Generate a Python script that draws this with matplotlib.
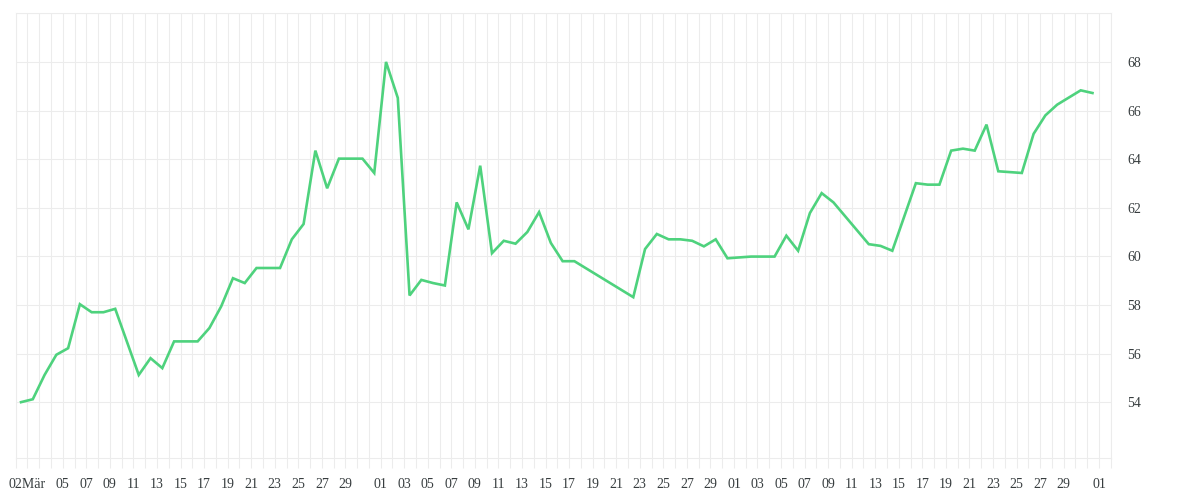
import matplotlib
matplotlib.use("Agg")
import matplotlib.pyplot as plt
import matplotlib.dates as mdates
import numpy as np
import pandas as pd

# daily readings (only the days where the line has a vertex)
dates = pd.to_datetime([
    "2024-03-01", "2024-03-02", "2024-03-03", "2024-03-04", "2024-03-05",
    "2024-03-06", "2024-03-07", "2024-03-08", "2024-03-09", "2024-03-11",
    "2024-03-12", "2024-03-13", "2024-03-14", "2024-03-16", "2024-03-17",
    "2024-03-18", "2024-03-19", "2024-03-20", "2024-03-21", "2024-03-23",
    "2024-03-24", "2024-03-25", "2024-03-26", "2024-03-27", "2024-03-28",
    "2024-03-30", "2024-03-31", "2024-04-01", "2024-04-02", "2024-04-03",
    "2024-04-04", "2024-04-05", "2024-04-06", "2024-04-07", "2024-04-08",
    "2024-04-09", "2024-04-10", "2024-04-11", "2024-04-12", "2024-04-13",
    "2024-04-14", "2024-04-15", "2024-04-16", "2024-04-17", "2024-04-22",
    "2024-04-23", "2024-04-24", "2024-04-25", "2024-04-26", "2024-04-27",
    "2024-04-28", "2024-04-29", "2024-04-30", "2024-05-02", "2024-05-04",
    "2024-05-05", "2024-05-06", "2024-05-07", "2024-05-08", "2024-05-09",
    "2024-05-12", "2024-05-13", "2024-05-14", "2024-05-16", "2024-05-17",
    "2024-05-18", "2024-05-19", "2024-05-20", "2024-05-21", "2024-05-22",
    "2024-05-23", "2024-05-25", "2024-05-26", "2024-05-27", "2024-05-28",
    "2024-05-30", "2024-05-31",
])
values = [
    54.00, 54.12, 55.12, 55.95, 56.22,
    58.03, 57.70, 57.70, 57.84, 55.12,
    55.81, 55.40, 56.50, 56.50, 57.05,
    57.94, 59.10, 58.90, 59.52, 59.52,
    60.70, 61.33, 64.35, 62.80, 64.02,
    64.02, 63.43, 68.00, 66.52, 58.39,
    59.03, 58.90, 58.80, 62.22, 61.11,
    63.73, 60.13, 60.64, 60.52, 61.00,
    61.82, 60.55, 59.80, 59.80, 58.32,
    60.30, 60.92, 60.70, 60.70, 60.64,
    60.41, 60.70, 59.92, 59.99, 59.99,
    60.85, 60.23, 61.78, 62.60, 62.22,
    60.50, 60.43, 60.23, 63.01, 62.95,
    62.95, 64.35, 64.43, 64.35, 65.42,
    63.50, 63.43, 65.04, 65.80, 66.24,
    66.83, 66.72,
]
y_ticks = [54, 56, 58, 60, 62, 64, 66, 68, 70]

LINE = "#4ed27d"
GRID = "#ececec"
TEXT = "#373d3f"
plt.rcParams["font.family"] = ["Liberation Serif", "DejaVu Serif"]

start = pd.Timestamp("2024-03-01")
end = pd.Timestamp("2024-06-02")

fig = plt.figure(figsize=(12, 5), dpi=100)
ax = fig.add_axes([0.0131, 0.0834, 0.9125, 0.89])

# readings are taken late morning, so shift half a day off the gridlines
x = mdates.date2num(dates) + 0.45
ax.plot(x, values, color=LINE, lw=1.9, solid_joinstyle="miter", zorder=3)

# daily ticks; labels on the 1st of each month and every other day
days = pd.date_range(start, end, freq="D")
labels = []
for d in days:
    if d == pd.Timestamp("2024-03-02"):
        labels.append("02Mär")
    elif d.day == 1 and d != start:
        labels.append("01")
    elif d.day % 2 == 1 and 5 <= d.day <= 29:
        labels.append(f"{d.day:02d}")
    elif d.day == 3 and d.month != 3:
        labels.append("03")
    else:
        labels.append("")
ax.set_xticks(mdates.date2num(days))
ax.set_xticklabels(labels)
ax.set_xlim(mdates.date2num(start), mdates.date2num(end))

ax.set_yticks(y_ticks)
ax.set_yticklabels([str(v) if v < 70 else "" for v in y_ticks])
ax.set_ylim(51.69, 70)
ax.yaxis.tick_right()

ax.grid(True, color=GRID, lw=0.75, zorder=0)
ax.set_axisbelow(True)
for sp in ax.spines.values():
    sp.set_color(GRID)
    sp.set_linewidth(0.75)

ax.tick_params(axis="x", length=7.2, width=0.75, color=GRID, pad=7,
               labelsize=10, labelcolor=TEXT)
ax.tick_params(axis="y", length=0, pad=12, labelsize=10, labelcolor=TEXT)

fig.savefig("out.png", dpi=100)
